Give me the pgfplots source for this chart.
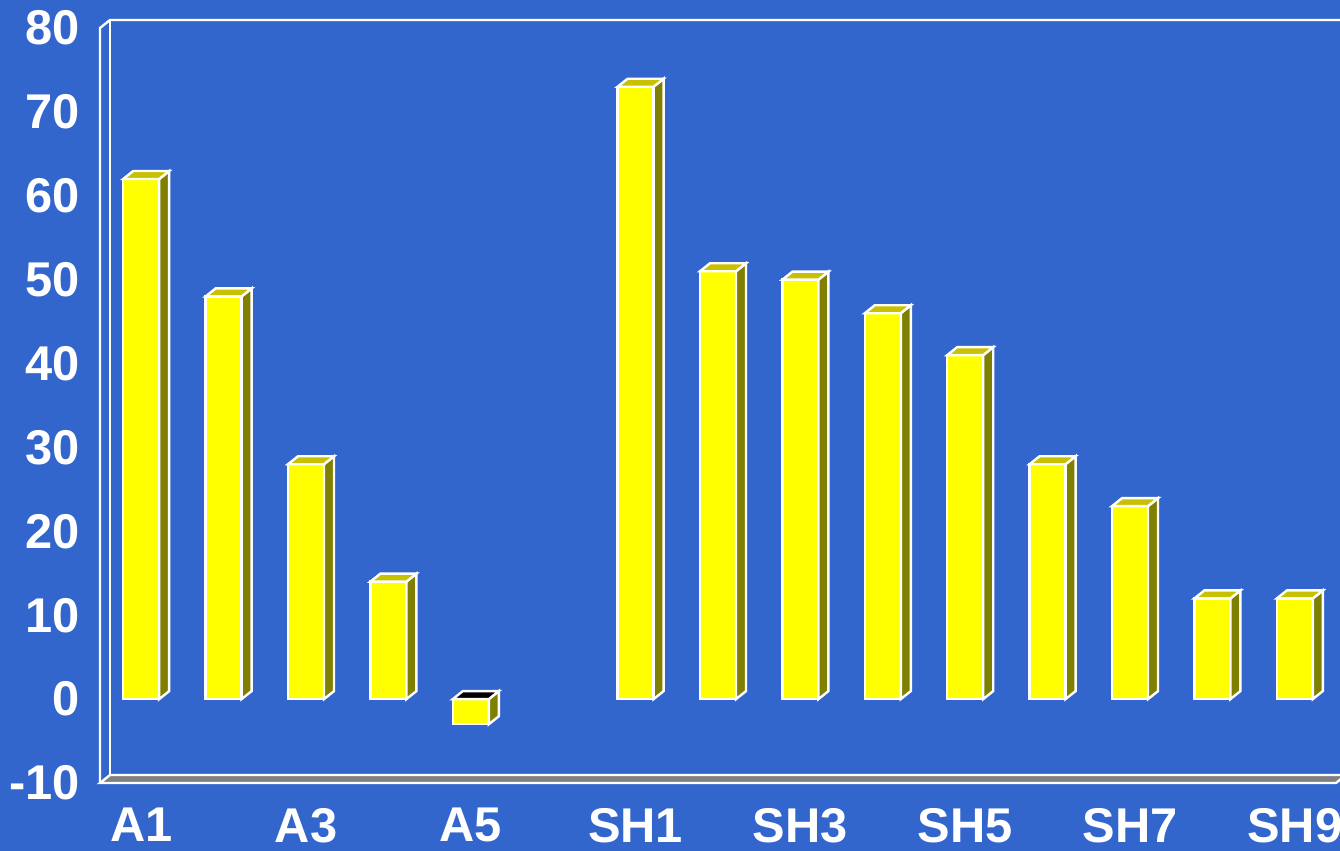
\documentclass[border=0pt]{standalone}
\usepackage{fontspec}
\setmainfont{Liberation Sans}
\usepackage{pgfplots}
\pgfplotsset{compat=1.18}

\definecolor{bgblue}{RGB}{51,102,204}
\definecolor{barfront}{RGB}{255,255,0}
\definecolor{barside}{RGB}{128,128,0}
\definecolor{bartop}{RGB}{200,192,0}
\definecolor{floorgray}{RGB}{128,128,128}

% bar geometry in pt: half width of front face, depth offsets
\def\bhw{9}
\def\ddx{5}
\def\ddy{4}
\def\yu{4.194444} % pt per y unit (377.5pt / 90)

% side and top faces of a bar, drawn at the data point
\pgfdeclareplotmark{box3d}{%
  \pgfmathsetmacro\bT{(max(\yv,0)-\yv)*\yu}%
  \pgfmathsetmacro\bB{(min(\yv,0)-\yv)*\yu}%
  \pgfsetlinewidth{1.2pt}%
  \pgfsetstrokecolor{white}%
  \pgfsetfillcolor{barside}%
  \pgfpathmoveto{\pgfpoint{\bhw pt}{\bT pt}}%
  \pgfpathlineto{\pgfpoint{\bhw pt+\ddx pt}{\bT pt+\ddy pt}}%
  \pgfpathlineto{\pgfpoint{\bhw pt+\ddx pt}{\bB pt+\ddy pt}}%
  \pgfpathlineto{\pgfpoint{\bhw pt}{\bB pt}}%
  \pgfpathclose
  \pgfusepath{fill,stroke}%
  \ifdim\yv pt<0pt \pgfsetfillcolor{black}\else\pgfsetfillcolor{bartop}\fi
  \pgfpathmoveto{\pgfpoint{-\bhw pt}{\bT pt}}%
  \pgfpathlineto{\pgfpoint{-\bhw pt+\ddx pt}{\bT pt+\ddy pt}}%
  \pgfpathlineto{\pgfpoint{\bhw pt+\ddx pt}{\bT pt+\ddy pt}}%
  \pgfpathlineto{\pgfpoint{\bhw pt}{\bT pt}}%
  \pgfpathclose
  \pgfusepath{fill,stroke}%
}

\begin{document}
\begin{tikzpicture}
\fill[bgblue] (-50pt,-34pt) rectangle (620pt,391.5pt);
\begin{axis}[
  at={(0,0)}, anchor=south west,
  scale only axis,
  width=618pt, height=377.5pt,
  xmin=-0.5, xmax=14.5,
  ymin=-10, ymax=80,
  clip=false,
  axis line style={draw=none},
  major tick length=0pt,
  tick style={draw=none},
  xtick={0,2,4,6,8,10,12,14},
  xticklabels={A1,A3,A5,SH1,SH3,SH5,SH7,SH9},
  ytick={-10,0,10,20,30,40,50,60,70,80},
  yticklabels={-10,0,10,20,30,40,50,60,70,80},
  tick label style={font=\bfseries\fontsize{24.4}{28}\selectfont, text=white, inner sep=0pt},
  yticklabel style={anchor=east, xshift=-10pt},
  xticklabel style={anchor=north, yshift=-12.5pt},
]
% 3D frame
\filldraw[fill=floorgray, draw=white, line width=1.2pt]
  (rel axis cs:0,0) -- (rel axis cs:1,0)
  -- ([shift={(5pt,4pt)}]rel axis cs:1,0) -- ([shift={(5pt,4pt)}]rel axis cs:0,0) -- cycle;
\draw[white, line width=1.2pt] (rel axis cs:0,0) -- (rel axis cs:0,1)
  -- ([shift={(5pt,4pt)}]rel axis cs:0,1) -- ([shift={(5pt,4pt)}]rel axis cs:1.05,1);
\draw[white, line width=1.2pt] ([shift={(5pt,4pt)}]rel axis cs:0,1) -- ([shift={(5pt,4pt)}]rel axis cs:0,0);

% front faces
\addplot[ybar, bar width=18pt, fill=barfront, draw=white, line width=1.2pt]
  coordinates {(0,62) (1,48) (2,28) (3,14) (4,-3)
               (6,73) (7,51) (8,50) (9,46) (10,41) (11,28) (12,23) (13,12) (14,12)};

% side and top faces
\addplot[only marks, scatter, mark=box3d,
  scatter/@pre marker code/.code={}, scatter/@post marker code/.code={},
  visualization depends on={rawy \as \yv}]
  coordinates {(0,62) (1,48) (2,28) (3,14) (4,-3)
               (6,73) (7,51) (8,50) (9,46) (10,41) (11,28) (12,23) (13,12) (14,12)};
\end{axis}
\pgfresetboundingbox
\path[use as bounding box] (-50pt,-34pt) rectangle (620pt,391.5pt);
\end{tikzpicture}
\end{document}
